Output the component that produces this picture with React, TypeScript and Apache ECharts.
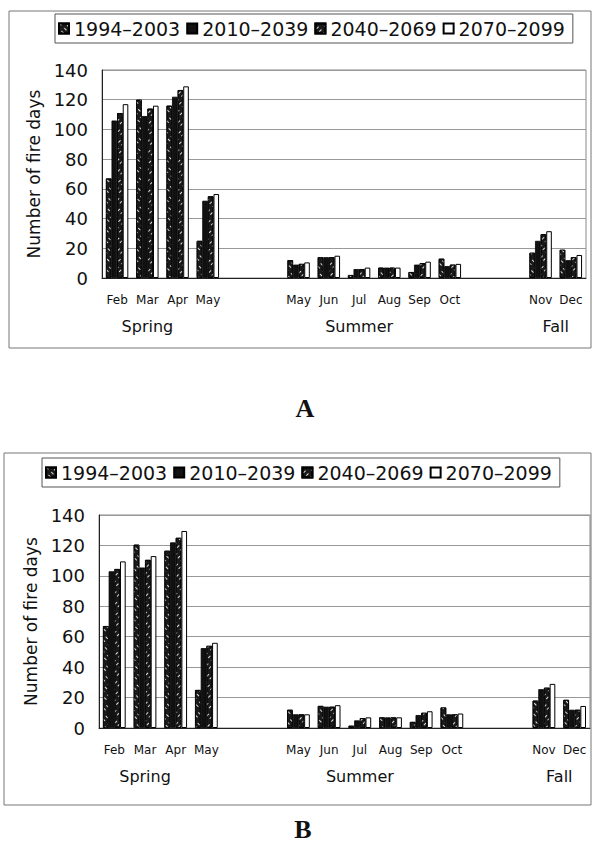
import React, { useEffect, useRef } from 'react';
import * as echarts from 'echarts';

const months = ['Feb', 'Mar', 'Apr', 'May', '', '', 'May', 'Jun', 'Jul', 'Aug', 'Sep', 'Oct', '', '', 'Nov', 'Dec'];
const periods = ['1994\u20132003', '2010\u20132039', '2040\u20132069', '2070\u20132099'];
const seasonNames = ['Spring', 'Summer', 'Fall'];
const seasonSlots = [3, 17, 30]; // half-category slots (33 slots across the axis)

// Panel A
const a1994 = [67, 120, 116, 25, null, null, 12, 14, 2, 7, 4, 13, null, null, 17, 19];
const a2010 = [106, 109, 122, 52, null, null, 9, 14, 6, 7, 9, 8, null, null, 25, 12];
const a2040 = [111, 114, 126.5, 55, null, null, 9.5, 14, 6, 7, 10, 9, null, null, 29.5, 14];
const a2070 = [117, 116, 129, 56.5, null, null, 10.5, 15, 7, 7, 11, 9.5, null, null, 31.5, 15.5];

// Panel B
const b1994 = [67, 120.5, 116.5, 25, null, null, 12, 14.5, 1.5, 7, 4, 13.5, null, null, 18, 18.5];
const b2010 = [103, 105.5, 122, 52.5, null, null, 9, 14, 5, 7, 8.5, 9, null, null, 25.5, 12];
const b2040 = [104.5, 110.5, 125, 54, null, null, 9, 14, 6.5, 7, 10, 9, null, null, 26.5, 12];
const b2070 = [109.5, 113, 129.5, 56, null, null, 9, 15, 7, 7, 11, 9.5, null, null, 29, 14.5];

const yTicks = { min: 0, max: 140, interval: 20 };

const FONT = '"DejaVu Sans", "Liberation Sans", sans-serif';

export default function App() {
  const ref = useRef<HTMLDivElement>(null);
  useEffect(() => {
    const chart = echarts.init(ref.current!, null, { renderer: 'svg' });

    const seasonAxisData = Array.from({ length: 33 }, () => '');
    seasonSlots.forEach((s, i) => { seasonAxisData[s] = seasonNames[i]; });

    const styles: any[] = [
      { color: '#1a1a1a', borderColor: '#000', borderWidth: 0.8, decal: { color: 'rgba(255,255,255,0.85)', symbol: 'rect', dashArrayX: [1, 3], dashArrayY: [3, 4], rotation: -Math.PI / 4 } },
      { color: '#111', borderColor: '#000', borderWidth: 0.8 },
      { color: '#1a1a1a', borderColor: '#000', borderWidth: 0.8, decal: { color: 'rgba(255,255,255,0.85)', symbol: 'rect', dashArrayX: [1, 3], dashArrayY: [3, 4], rotation: Math.PI / 4 } },
      { color: '#fff', borderColor: '#000', borderWidth: 1 },
    ];

    const grids = [
      { left: 102, top: 70, width: 484, height: 208 },
      { left: 99, top: 515, width: 491, height: 213 },
    ];

    const xAxes: any[] = [];
    const yAxes: any[] = [];
    grids.forEach((g, gi) => {
      xAxes.push({
        gridIndex: gi, type: 'category', data: months, position: 'bottom',
        axisLine: { lineStyle: { color: '#222', width: 1 } },
        axisTick: { inside: true, length: 4, lineStyle: { color: '#888' } },
        axisLabel: { interval: 0, margin: 16, fontSize: 12, color: '#111', fontFamily: FONT },
      });
      xAxes.push({
        gridIndex: gi, type: 'category', data: seasonAxisData, position: 'bottom', boundaryGap: false,
        axisLine: { show: false }, axisTick: { show: false }, splitLine: { show: false },
        axisLabel: { interval: 0, margin: 40, fontSize: 16, color: '#111', fontFamily: FONT },
      });
      yAxes.push({
        gridIndex: gi, type: 'value', ...yTicks,
        name: 'Number of fire days', nameLocation: 'middle', nameGap: 52,
        nameTextStyle: { fontSize: 17, color: '#111', fontFamily: FONT },
        axisLine: { show: true, lineStyle: { color: '#222' } },
        axisTick: { show: false },
        axisLabel: { margin: 14, fontSize: 18, color: '#111', fontFamily: FONT },
        splitLine: { lineStyle: { color: '#999', width: 1 } },
      });
    });

    const dataA = [a1994, a2010, a2040, a2070];
    const dataB = [b1994, b2010, b2040, b2070];
    const series: any[] = [];
    [dataA, dataB].forEach((set, gi) => {
      set.forEach((vals, si) => {
        series.push({
          type: 'bar', name: periods[si], xAxisIndex: gi * 2, yAxisIndex: gi,
          data: vals, barGap: '0%', barCategoryGap: '26%',
          itemStyle: styles[si],
        });
      });
    });

    const legendBase = {
      orient: 'horizontal', itemWidth: 10, itemHeight: 10, itemGap: 6,
      borderColor: '#555', borderWidth: 1, icon: 'rect',
      textStyle: { fontSize: 19, color: '#111', fontFamily: FONT },
      data: periods,
    };

    chart.setOption({
      animation: false,
      backgroundColor: '#fff',
      grid: grids.map(g => ({ ...g, show: true, borderColor: '#888', borderWidth: 1 })),
      xAxis: xAxes,
      yAxis: yAxes,
      legend: [
        { ...legendBase, left: 55, top: 14, padding: [5, 8, 5, 3] },
        { ...legendBase, left: 42, top: 458, padding: [5, 8, 5, 3] },
      ],
      series,
      graphic: [
        { type: 'rect', shape: { x: 9, y: 11, width: 582, height: 337 }, style: { fill: 'none', stroke: '#777', lineWidth: 1 }, silent: true },
        { type: 'rect', shape: { x: 4, y: 453, width: 587, height: 352 }, style: { fill: 'none', stroke: '#777', lineWidth: 1 }, silent: true },
        { type: 'text', x: 305, y: 408, style: { text: 'A', fill: '#111', font: 'bold 26px "Liberation Serif", serif', textAlign: 'center', textVerticalAlign: 'middle' } },
        { type: 'text', x: 303, y: 829, style: { text: 'B', fill: '#111', font: 'bold 26px "Liberation Serif", serif', textAlign: 'center', textVerticalAlign: 'middle' } },
      ],
    });
    return () => chart.dispose();
  }, []);
  return <div ref={ref} style={{ position: 'fixed', left: 0, top: 0, width: 593, height: 866, background: '#fff' }} />;
}
